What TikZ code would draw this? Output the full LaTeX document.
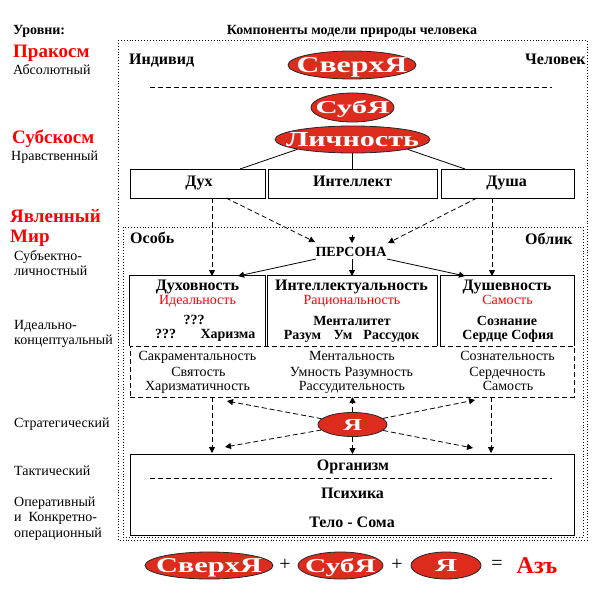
\documentclass[tikz,border=0pt]{standalone}
\usepackage{fontspec}
\setmainfont{Liberation Serif}
\usetikzlibrary{arrows.meta,shapes.geometric}
\definecolor{elred}{RGB}{221,44,30}
\definecolor{txtred}{RGB}{255,0,0}
\begin{document}
\begin{tikzpicture}[x=1pt,y=-1pt,
 every node/.style={inner sep=0pt},
 reg/.style={font=\fontsize{14}{16}\selectfont, text height=9.3pt, text depth=0pt},
 bld/.style={font=\fontsize{16}{18}\selectfont\bfseries, text height=10.6pt, text depth=0pt},
 bls/.style={font=\fontsize{14}{16}\selectfont\bfseries, text height=9.3pt, text depth=0pt},
 rdt/.style={reg, text=txtred},
 head/.style={font=\fontsize{19}{21}\selectfont\bfseries, text=txtred, text height=12.6pt, text depth=0pt},
 elp/.style={ellipse, fill=elred, draw=black!85, line width=0.8pt},
 eltx/.style={text=white, font=\bfseries, text depth=0pt},
 boxx/.style={rectangle, draw, line width=0.8pt},
 dot/.style={line width=0.8pt, dash pattern=on 0.9pt off 2pt},
 dsh/.style={line width=0.8pt, dash pattern=on 5pt off 3pt},
 arr/.style={-{Triangle[length=6pt,width=6pt]}},
 sol/.style={line width=0.8pt},
 sym/.style={font=\fontsize{20}{22}\selectfont}
]
\useasboundingbox (0,0) rectangle (596,604);

% frames
\draw[dot] (118,40) rectangle (587,540);
\draw[dot] (123,227) rectangle (583,537);

% left column
\node[bls, anchor=west] (ur) at (13,29.5) {Уровни:};
\node[bls] (komp) at (352,29.5) {Компоненты модели природы человека};
\node[head, anchor=west] (prak) at (13,51.5) {Пракосм};
\node[reg, anchor=west] (abs) at (13,69.5) {Абсолютный};
\node[head, anchor=west] (subk) at (12,137) {Субскосм};
\node[reg, anchor=west] (nrav) at (11,155.5) {Нравственный};
\node[head, anchor=west] (yav) at (10,216) {Явленный};
\node[head, anchor=west] (mir) at (10,236.5) {Мир};
\node[reg, anchor=west] (sl1) at (14,255.5) {Субъектно-};
\node[reg, anchor=west] (sl2) at (14,270.5) {личностный};
\node[reg, anchor=west] (ik1) at (14,325.3) {Идеально-};
\node[reg, anchor=west] (ik2) at (14,339.5) {концептуальный};
\node[reg, anchor=west] (str) at (14,422.5) {Стратегический};
\node[reg, anchor=west] (tak) at (14,470.5) {Тактический};
\node[reg, anchor=west] (op1) at (14,501.5) {Оперативный};
\node[reg, anchor=west] (op2) at (14,517) {и\ \ Конкретно-};
\node[reg, anchor=west] (op3) at (14,532.5) {операционный};

% top area
\node[bld, anchor=west] (indiv) at (129,59) {Индивид};
\node[bld, anchor=west] (chel) at (525,59) {Человек};
\node[elp, minimum width=128pt, minimum height=28pt] (sv) at (352,65) {};
\node[eltx] at (sv) {\resizebox{111pt}{15pt}{СверхЯ}};
\coordinate (dl1) at (150,87); \coordinate (dl2) at (552,87);
\draw[dsh] (dl1) -- (dl2);
\node[elp, minimum width=83pt, minimum height=29pt] (sb) at (352.5,107.5) {};
\node[eltx] at (sb) {\resizebox{74pt}{13pt}{СубЯ}};
\node[elp, minimum width=155pt, minimum height=27pt] (lich) at (352.5,139.5) {};
\node[eltx] at (lich) {\resizebox{133pt}{14pt}{Личность}};

% row 1
\node[boxx, minimum width=135pt, minimum height=29pt] (dux) at (197.5,183.5) {};
\node[boxx, minimum width=169pt, minimum height=29pt] (intel) at (352.5,183.5) {};
\node[boxx, minimum width=133pt, minimum height=29pt] (dusha) at (507.5,183.5) {};
\node[bld] (duxt) at (199,181) {Дух};
\node[bld] (intelt) at (352.5,181) {Интеллект};
\node[bld] (dushat) at (506.5,181) {Душа};
\coordinate (duxtop) at (240,169);
\coordinate (dushatop) at (465,169);
\draw[sol] (lich.south) -- (intel.north);
\draw[sol] (lich.south west) -- (duxtop);
\draw[sol] (lich.south east) -- (dushatop);

% Особь / Облик / ПЕРСОНА
\node[bld, anchor=west] (osob) at (130,238.5) {Особь};
\node[bld, anchor=west] (oblik) at (525,238.7) {Облик};
\node[bls] (pers) at (351,252) {ПЕРСОНА};

% row 2 boxes (three solid sides)
\node[minimum width=135pt, minimum height=70pt] (b2a) at (197.5,311) {};
\node[minimum width=169pt, minimum height=70pt] (b2b) at (352.5,311) {};
\node[minimum width=133pt, minimum height=70pt] (b2c) at (507.5,311) {};
\foreach \b in {b2a,b2b,b2c}
  \draw[sol] (\b.south west) |- (\b.north east) -- (\b.south east);

\node[bld] (t1) at (197.5,285) {Духовность};
\node[rdt] (r1) at (197.5,300) {Идеальность};
\node[bls] (q1) at (194,319.5) {???};
\node[bls] (q2) at (165.5,334) {???};
\node[bls] (xar) at (228,334) {Харизма};

\node[bld] (t2) at (351.5,285) {Интеллектуальность};
\node[rdt] (r2) at (352,300) {Рациональность};
\node[bls] (ment) at (352,321.3) {Менталитет};
\node[bls] (raz) at (302.5,334.5) {Разум};
\node[bls] (um) at (343,334.5) {Ум};
\node[bls] (ras) at (391.5,334.5) {Рассудок};

\node[bld] (t3) at (507,285) {Душевность};
\node[rdt] (r3) at (507.5,300) {Самость};
\node[bls] (soz) at (507,321.3) {Сознание};
\node[bls] (serd) at (508,334.5) {Сердце София};

% dashed rect
\node[rectangle, draw, dsh, minimum width=444pt, minimum height=51pt] (drect) at (352,371.5) {};
\node[reg] (c11) at (197.5,355.5) {Сакраментальность};
\node[reg] (c12) at (198.5,372) {Святость};
\node[reg] (c13) at (197.5,386) {Харизматичность};
\node[reg] (c21) at (352,355.5) {Ментальность};
\node[reg] (c22) at (351.5,372) {Умность Разумность};
\node[reg] (c23) at (352,386) {Рассудительность};
\node[reg] (c31) at (507.5,355.5) {Сознательность};
\node[reg] (c32) at (507.5,372) {Сердечность};
\node[reg] (c33) at (508,386) {Самость};

% arrows row1 -> row2 / ПЕРСОНА
\coordinate (a1s) at (212,198); \coordinate (a1e) at (212,276);
\coordinate (a2s) at (492,198); \coordinate (a2e) at (492,276);
\coordinate (a3s) at (226,198); \coordinate (a3e) at (315,242);
\coordinate (a4s) at (477,198); \coordinate (a4e) at (388,243);
\coordinate (a5s) at (352,235); \coordinate (a5e) at (352,243);
\draw[dsh,arr] (a1s) -- (a1e);
\draw[dsh,arr] (a2s) -- (a2e);
\draw[dsh,arr] (a3s) -- (a3e);
\draw[dsh,arr] (a4s) -- (a4e);
\draw[sol,arr] (a5s) -- (a5e);
\coordinate (p1s) at (316,259); \coordinate (p1e) at (238,276);
\coordinate (p2s) at (352,259); \coordinate (p2e) at (352,276);
\coordinate (p3s) at (387,259); \coordinate (p3e) at (465,276);
\draw[sol,arr] (p1s) -- (p1e);
\draw[sol,arr] (p2s) -- (p2e);
\draw[sol,arr] (p3s) -- (p3e);

% Я
\node[elp, minimum width=69pt, minimum height=24pt] (ya) at (352.5,424.5) {};
\node[eltx] at (ya) {\resizebox{19pt}{11pt}{Я}};
\coordinate (yu) at (352.5,397); \coordinate (yd) at (352.5,454);
\coordinate (yul) at (227,401); \coordinate (yll) at (225,447);
\coordinate (yur) at (475,400); \coordinate (ylr) at (473,448);
\draw[dsh,arr] (ya.north) -- (yu);
\draw[dsh,arr] (ya.south) -- (yd);
\draw[dsh,arr] (ya) -- (yul);
\draw[dsh,arr] (ya) -- (yll);
\draw[dsh,arr] (ya) -- (yur);
\draw[dsh,arr] (ya) -- (ylr);
\coordinate (v1s) at (212,397); \coordinate (v1e) at (212,453);
\coordinate (v2s) at (491,397); \coordinate (v2e) at (491,453);
\draw[dsh,arr] (v1s) -- (v1e);
\draw[dsh,arr] (v2s) -- (v2e);

% big box
\node[boxx, minimum width=444pt, minimum height=81pt] (big) at (352,494.5) {};
\node[bld] (org) at (353,464.7) {Организм};
\coordinate (dl3) at (150,478); \coordinate (dl4) at (552,478);
\draw[dsh] (dl3) -- (dl4);
\node[bld] (psy) at (352.5,493) {Психика};
\node[bld] (telo) at (352,522) {Тело - Сома};

% formula
\node[elp, minimum width=128pt, minimum height=27pt] (sv2) at (209,565.5) {};
\node[eltx] at (sv2) {\resizebox{106pt}{14pt}{СверхЯ}};
\node[sym] (pl1) at (285,565) {+};
\node[elp, minimum width=85pt, minimum height=27pt] (sb2) at (340.5,565.5) {};
\node[eltx] at (sb2) {\resizebox{71pt}{14pt}{СубЯ}};
\node[sym] (pl2) at (397,565) {+};
\node[elp, minimum width=70pt, minimum height=27pt] (ya2) at (446,565.5) {};
\node[eltx] at (ya2) {\resizebox{22pt}{12pt}{Я}};
\node[sym] (eq) at (497,565) {=};
\node[font=\fontsize{24}{26}\selectfont\bfseries, text=txtred, text height=16pt, text depth=0pt] (az) at (537,565) {Азъ};
\end{tikzpicture}
\end{document}
